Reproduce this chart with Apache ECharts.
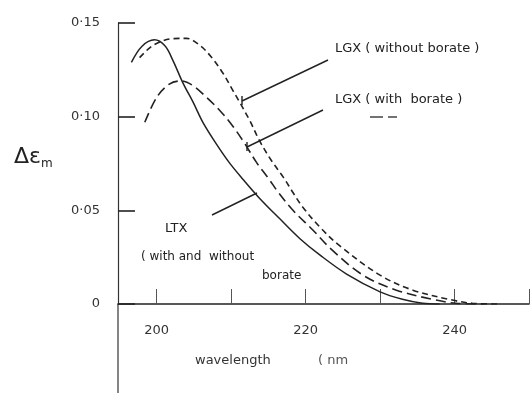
<!DOCTYPE html>
<html>
<head>
<meta charset="utf-8">
<script src="https://cdn.jsdelivr.net/npm/echarts@6/dist/echarts.min.js"></script>
<style>
  html, body { margin: 0; padding: 0; background: #fff; }
  #chart { width: 531px; height: 393px; }
</style>
</head>
<body>
<div id="chart"></div>
<script>
  // wavelength (nm) / delta epsilon
  var ltxWave = [196.6, 198, 199.7, 201.1, 202.2, 203.5, 204.9, 206.2, 208, 209.8, 211.6, 213.8, 216.5, 219.2, 221.9, 225.5, 230, 233, 235.7, 238];
  var ltxDelta = [0.129, 0.1375, 0.141, 0.1378, 0.1298, 0.1182, 0.1076, 0.097, 0.0855, 0.0752, 0.0665, 0.0565, 0.0456, 0.035, 0.0262, 0.016, 0.0065, 0.0025, 0.0004, 0];

  var lgxNoBorateWave = [197.7, 199.1, 200.4, 202, 204, 205.8, 207.3, 208.9, 210.2, 211.1, 212.5, 213.8, 215.4, 217, 218.3, 219.6, 221.9, 224.6, 230, 234.4, 239.7, 242.4, 246];
  var lgxNoBorateDelta = [0.1315, 0.1369, 0.1399, 0.1416, 0.1418, 0.138, 0.132, 0.1232, 0.1142, 0.108, 0.0979, 0.0872, 0.0766, 0.0677, 0.0595, 0.0518, 0.0411, 0.0310, 0.0154, 0.0074, 0.0021, 0.0004, 0];

  var lgxBorateWave = [198.4, 200, 201.7, 203.3, 204.9, 206.7, 208.5, 210.2, 211.8, 213.4, 215.2, 216.1, 218.3, 221, 223.5, 227.7, 232.2, 237.5, 240.2, 244];
  var lgxBorateDelta = [0.097, 0.1103, 0.1174, 0.1191, 0.1165, 0.1103, 0.1032, 0.0950, 0.0858, 0.0756, 0.066, 0.0608, 0.05, 0.0394, 0.029, 0.0154, 0.0074, 0.0021, 0.0004, 0];

  var xTicks = [200, 210, 220, 230, 240, 250];
  var xTickLabels = [200, 220, 240];
  var yTicks = [0, 0.05, 0.1, 0.15];
  var yTickLabels = ['0', '0·05', '0·10', '0·15'];

  function pairs(xs, ys) {
    return xs.map(function (x, i) { return [x, ys[i]]; });
  }

  var ink = '#222';
  var font = 'DejaVu Sans';

  var myChart = echarts.init(document.getElementById('chart'));
  var option = {
    backgroundColor: '#fff',
    animation: false,
    grid: { left: 118, right: 2, top: 23, bottom: 89 },
    textStyle: { fontFamily: font, color: ink },
    xAxis: {
      type: 'value',
      min: 194.8,
      max: 250,
      splitLine: { show: false },
      axisLine: { lineStyle: { color: ink, width: 1.6 } },
      axisTick: { inside: true, length: 15, customValues: xTicks, lineStyle: { color: '#555', width: 1 } },
      axisLabel: { customValues: xTickLabels, margin: 20, fontSize: 13, color: '#333', fontFamily: font }
    },
    yAxis: {
      type: 'value',
      min: 0,
      max: 0.15,
      interval: 0.05,
      splitLine: { show: false },
      axisLine: { show: true, lineStyle: { color: '#333', width: 1.2 } },
      axisTick: { inside: true, length: 17, lineStyle: { color: ink, width: 1.6 } },
      axisLabel: {
        margin: 18,
        fontSize: 13,
        color: '#333',
        fontFamily: font,
        formatter: function (v) {
          var i = yTicks.findIndex(function (t) { return Math.abs(t - v) < 1e-9; });
          return i < 0 ? '' : yTickLabels[i];
        }
      }
    },
    series: [
      {
        name: 'LTX',
        type: 'line',
        smooth: 0.35,
        showSymbol: false,
        lineStyle: { color: ink, width: 1.5, type: 'solid' },
        data: pairs(ltxWave, ltxDelta)
      },
      {
        name: 'LGX without borate',
        type: 'line',
        smooth: 0.35,
        showSymbol: false,
        lineStyle: { color: ink, width: 1.6, type: [6, 4] },
        data: pairs(lgxNoBorateWave, lgxNoBorateDelta)
      },
      {
        name: 'LGX with borate',
        type: 'line',
        smooth: 0.35,
        showSymbol: false,
        lineStyle: { color: ink, width: 1.6, type: [10, 5] },
        data: pairs(lgxBorateWave, lgxBorateDelta)
      }
    ],
    graphic: [
      // y axis runs on below the x axis in the original
      { type: 'line', shape: { x1: 118, y1: 304, x2: 118, y2: 393 }, style: { stroke: '#333', lineWidth: 1.2 } },
      // y axis name
      {
        type: 'text', left: 14, top: 146,
        style: {
          text: '{a|Δε}{b|m}',
          rich: {
            a: { fontSize: 22, fontFamily: font, fill: ink },
            b: { fontSize: 12, fontFamily: font, fill: ink, padding: [14, 0, 0, 0] }
          }
        }
      },
      // x axis name
      { type: 'text', left: 195, top: 354, style: { text: 'wavelength', fontSize: 13, fontFamily: font, fill: '#333' } },
      { type: 'text', left: 318, top: 354, style: { text: '( nm', fontSize: 13, fontFamily: font, fill: '#555' } },
      // annotations
      { type: 'text', left: 335, top: 42, style: { text: 'LGX ( without borate )', fontSize: 13, fontFamily: font, fill: ink } },
      { type: 'line', shape: { x1: 328, y1: 60, x2: 242, y2: 101 }, style: { stroke: ink, lineWidth: 1.4 } },
      { type: 'line', shape: { x1: 242, y1: 96, x2: 242, y2: 105 }, style: { stroke: ink, lineWidth: 1.4 } },
      { type: 'text', left: 335, top: 93, style: { text: 'LGX ( with  borate )', fontSize: 13, fontFamily: font, fill: ink } },
      { type: 'line', shape: { x1: 323, y1: 110, x2: 247, y2: 147 }, style: { stroke: ink, lineWidth: 1.4 } },
      { type: 'line', shape: { x1: 247, y1: 142, x2: 247, y2: 151 }, style: { stroke: ink, lineWidth: 1.4 } },
      { type: 'line', shape: { x1: 370, y1: 117, x2: 397, y2: 117 }, style: { stroke: '#444', lineWidth: 1.4, lineDash: [13, 5] } },
      { type: 'text', left: 165, top: 222, style: { text: 'LTX', fontSize: 13, fontFamily: font, fill: ink } },
      { type: 'line', shape: { x1: 212, y1: 215, x2: 257, y2: 193 }, style: { stroke: ink, lineWidth: 1.4 } },
      { type: 'text', left: 141, top: 251, style: { text: '( with and  without', fontSize: 12, fontFamily: font, fill: ink } },
      { type: 'text', left: 262, top: 270, style: { text: 'borate', fontSize: 12, fontFamily: font, fill: ink } }
    ]
  };
  myChart.setOption(option);
  window.addEventListener('resize', function () {
    myChart.resize();
  });
</script>
</body>
</html>
